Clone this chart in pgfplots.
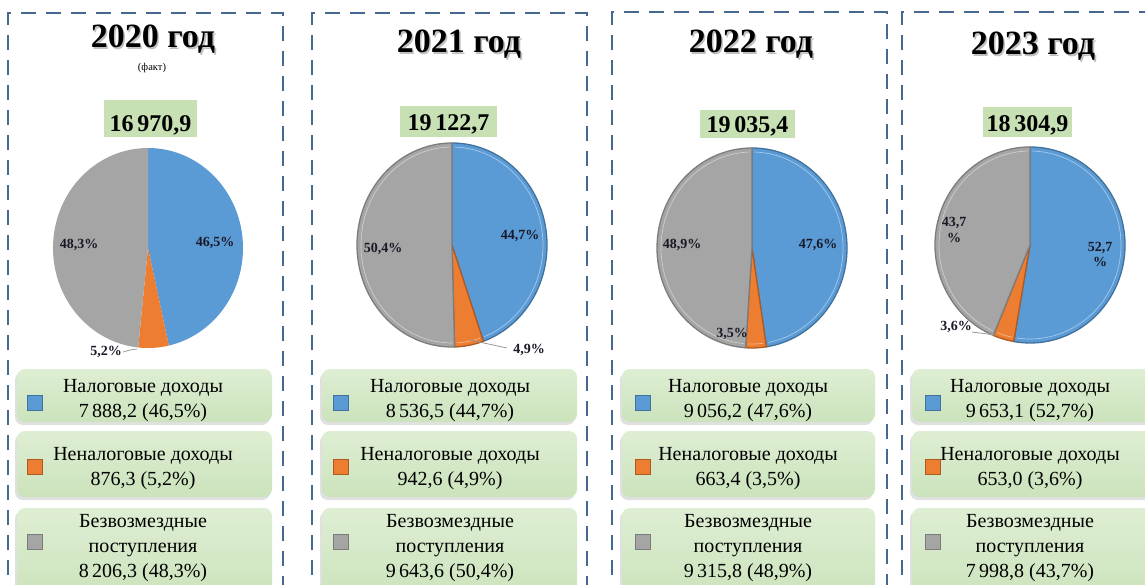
\documentclass[border=0pt]{standalone}
\usepackage{pgfplots}
\pgfplotsset{compat=1.18}
\usepackage{fontspec}
\setmainfont{Liberation Serif}
\definecolor{cBlue}{RGB}{91,155,213}
\definecolor{cBlueD}{RGB}{65,113,156}
\definecolor{cOrange}{RGB}{237,125,49}
\definecolor{cOrangeD}{RGB}{174,90,33}
\definecolor{cGrey}{RGB}{165,165,165}
\definecolor{cGreyD}{RGB}{124,124,124}
\definecolor{cTot}{RGB}{199,224,180}
\definecolor{cLegT}{RGB}{222,238,211}
\definecolor{cLegB}{RGB}{203,227,188}
\definecolor{cDash}{RGB}{70,105,145}
\definecolor{cLbl}{RGB}{25,25,40}

% #1 cx #2 cy #3 rx #4 ry #5 start #6 end #7 fill #8 edge #9 outlined(0/1)
\newcommand{\slice}[9]{%
  \fill[#7] (axis cs:#1,#2) -- ++(#5:#3pt and #4pt) arc[start angle=#5,end angle=#6,x radius=#3pt,y radius=#4pt] -- cycle;
  \ifnum#9=1
    \draw[#8,line width=1.3pt,line join=round] (axis cs:#1,#2) -- ++(#5:#3pt and #4pt) arc[start angle=#5,end angle=#6,x radius=#3pt,y radius=#4pt] -- cycle;
    \pgfmathsetmacro{\rxi}{#3-4}\pgfmathsetmacro{\ryi}{#4-4}%
    \pgfmathsetmacro{\sa}{#5-1.5}\pgfmathsetmacro{\ea}{#6+1.5}%
    \draw[white,opacity=.45,line width=.7pt] (axis cs:#1,#2) ++(\sa:\rxi pt and \ryi pt) arc[start angle=\sa,end angle=\ea,x radius=\rxi pt,y radius=\ryi pt];
  \fi
}
% #1 cx #2 cy #3 rx #4 ry #5 v1 #6 v2 #7 v3 #8 outlined
\newcommand{\drawpie}[8]{%
  \pgfplotsextra{%
    \pgfmathsetmacro{\tot}{#5/1000+#6/1000+#7/1000}%
    \pgfmathsetmacro{\aA}{90-360*((#5/1000)/\tot)}%
    \pgfmathsetmacro{\aB}{\aA-360*((#6/1000)/\tot)}%
    \slice{#1}{#2}{#3}{#4}{90}{\aA}{cBlue}{cBlueD}{#8}%
    \slice{#1}{#2}{#3}{#4}{\aA}{\aB}{cOrange}{cOrangeD}{#8}%
    \slice{#1}{#2}{#3}{#4}{\aB}{-270}{cGrey}{cGreyD}{#8}%
  }%
}
\newcommand{\lbox}[4]{% x1 x2 y1 y2
  \fill[black,opacity=.12,rounded corners=8pt] (axis cs:#1-2,#3+3) rectangle (axis cs:#2-2,#4+3);
  \shade[top color=cLegT,bottom color=cLegB,rounded corners=8pt] (axis cs:#1,#3) rectangle (axis cs:#2,#4);
}
% legend panel: #1 box x1, #2 box x2, #3 square x, #4 text cx, #5 l1, #6 l2, #7 l3
\newcommand{\legendpanel}[7]{%
  \lbox{#1}{#2}{369}{422}
  \lbox{#1}{#2}{431}{497}
  \lbox{#1}{#2}{508}{600}
  \filldraw[fill=cBlue,draw=cBlueD,line width=.8pt] (axis cs:#3,395.5) rectangle (axis cs:#3+15,410.5);
  \filldraw[fill=cOrange,draw=cOrangeD,line width=.8pt] (axis cs:#3,459) rectangle (axis cs:#3+15,474);
  \filldraw[fill=cGrey,draw=cGreyD,line width=.8pt] (axis cs:#3,534) rectangle (axis cs:#3+15,549);
  \node[anchor=base,font=\fontsize{20}{25}\selectfont] at (axis cs:#4,392) {Налоговые доходы};
  \node[anchor=base,font=\fontsize{20}{25}\selectfont] at (axis cs:#4,417) {#5};
  \node[anchor=base,font=\fontsize{20}{25}\selectfont] at (axis cs:#4,460) {Неналоговые доходы};
  \node[anchor=base,font=\fontsize{20}{25}\selectfont] at (axis cs:#4,485) {#6};
  \node[anchor=base,font=\fontsize{20}{25}\selectfont] at (axis cs:#4,527) {Безвозмездные};
  \node[anchor=base,font=\fontsize{20}{25}\selectfont] at (axis cs:#4,552) {поступления};
  \node[anchor=base,font=\fontsize{20}{25}\selectfont] at (axis cs:#4,577) {#7};
}
\newcommand{\ttl}[3]{%
  \node[anchor=base,font=\fontsize{34}{40}\selectfont\bfseries,text=black!35,opacity=.7] at (axis cs:#1+1.6,#2+1.6) {#3};
  \node[anchor=base,font=\fontsize{34}{40}\selectfont\bfseries] at (axis cs:#1,#2) {#3};
}
\newcommand{\totbox}[7]{% x1 x2 y1 y2 cx base text
  \fill[cTot] (axis cs:#1,#3) rectangle (axis cs:#2,#4);
  \node[anchor=base,font=\fontsize{24}{28}\selectfont\bfseries] at (axis cs:#5,#6) {#7};
}
\tikzset{pl/.style={anchor=base,font=\fontsize{14}{15}\selectfont\bfseries,text=cLbl,align=center}}

\begin{document}
\begin{tikzpicture}
\path[use as bounding box] (0,0) rectangle (1145pt,585pt);
\clip (0,0) rectangle (1145pt,585pt);
\fill[white] (0,0) rectangle (1145pt,585pt);
\begin{axis}[at={(0pt,0pt)},anchor=south west,x=1pt,y=1pt,
  xmin=0,xmax=1145,ymin=0,ymax=585,y dir=reverse,hide axis,clip=false]

% dashed panels
\draw[cDash,line width=2.6pt,dash pattern=on 15pt off 10pt] (axis cs:8,600) -- (axis cs:8,13) -- (axis cs:283,13) -- (axis cs:283,600);
\draw[cDash,line width=2.6pt,dash pattern=on 15pt off 10pt] (axis cs:312,600) -- (axis cs:312,13) -- (axis cs:587,13) -- (axis cs:587,600);
\draw[cDash,line width=2.6pt,dash pattern=on 15pt off 10pt] (axis cs:612,600) -- (axis cs:612,12) -- (axis cs:887,12) -- (axis cs:887,600);
\draw[cDash,line width=2.6pt,dash pattern=on 15pt off 10pt] (axis cs:902,600) -- (axis cs:902,12) -- (axis cs:1170,12);

% titles
\ttl{153}{48}{2020 год}
\node[anchor=base,font=\fontsize{10.5}{12}\selectfont] at (axis cs:152,71) {(факт)};
\ttl{459}{53}{2021 год}
\ttl{751}{53}{2022 год}
\ttl{1033}{55}{2023 год}

% totals
\totbox{104}{197}{100}{137}{150.5}{132}{16\,970,9}
\totbox{400}{497}{106}{137}{448.5}{131}{19\,122,7}
\totbox{700}{795}{110}{138}{747.5}{133}{19\,035,4}
\totbox{983}{1072}{107}{137}{1027.5}{132}{18\,304,9}

% pies: tax, non-tax, grants
\drawpie{148}{248}{95}{100}{7888.2}{876.3}{8206.3}{0}
\drawpie{452}{245}{95}{102}{8536.5}{942.6}{9643.6}{1}
\drawpie{752}{248}{95}{100}{9056.2}{663.4}{9315.8}{1}
\drawpie{1030}{245}{95}{98}{9653.1}{653.0}{7998.8}{1}

% pie labels
\node[pl] at (axis cs:215,247) {46,5\%};
\node[pl] at (axis cs:79,249) {48,3\%};
\node[pl] at (axis cs:106,355) {5,2\%};
\draw[black!40,line width=.8pt] (axis cs:123,352) -- (axis cs:130,350) -- (axis cs:137,349);
\node[pl] at (axis cs:520,240) {44,7\%};
\node[pl] at (axis cs:383,253) {50,4\%};
\node[pl] at (axis cs:529,353) {4,9\%};
\draw[black!40,line width=.8pt] (axis cs:470,340) -- (axis cs:507,348);
\node[pl] at (axis cs:818,248) {47,6\%};
\node[pl] at (axis cs:682,249) {48,9\%};
\node[pl] at (axis cs:732,337) {3,5\%};
\node[pl] at (axis cs:1100,252) {52,7};
\node[pl] at (axis cs:1100,266) {\%};
\node[pl] at (axis cs:954,227) {43,7};
\node[pl] at (axis cs:954,243) {\%};
\node[pl] at (axis cs:956,330) {3,6\%};
\draw[black!40,line width=.8pt] (axis cs:972,332) -- (axis cs:995,335);

% legends
\legendpanel{17}{272}{27}{143}{7\,888,2 (46,5\%)}{876,3 (5,2\%)}{8\,206,3 (48,3\%)}
\legendpanel{322}{577}{333}{450}{8\,536,5 (44,7\%)}{942,6 (4,9\%)}{9\,643,6 (50,4\%)}
\legendpanel{622}{875}{635}{748}{9\,056,2 (47,6\%)}{663,4 (3,5\%)}{9\,315,8 (48,9\%)}
\legendpanel{912}{1155}{925}{1030}{9\,653,1 (52,7\%)}{653,0 (3,6\%)}{7\,998,8 (43,7\%)}

\end{axis}
\end{tikzpicture}
\end{document}
